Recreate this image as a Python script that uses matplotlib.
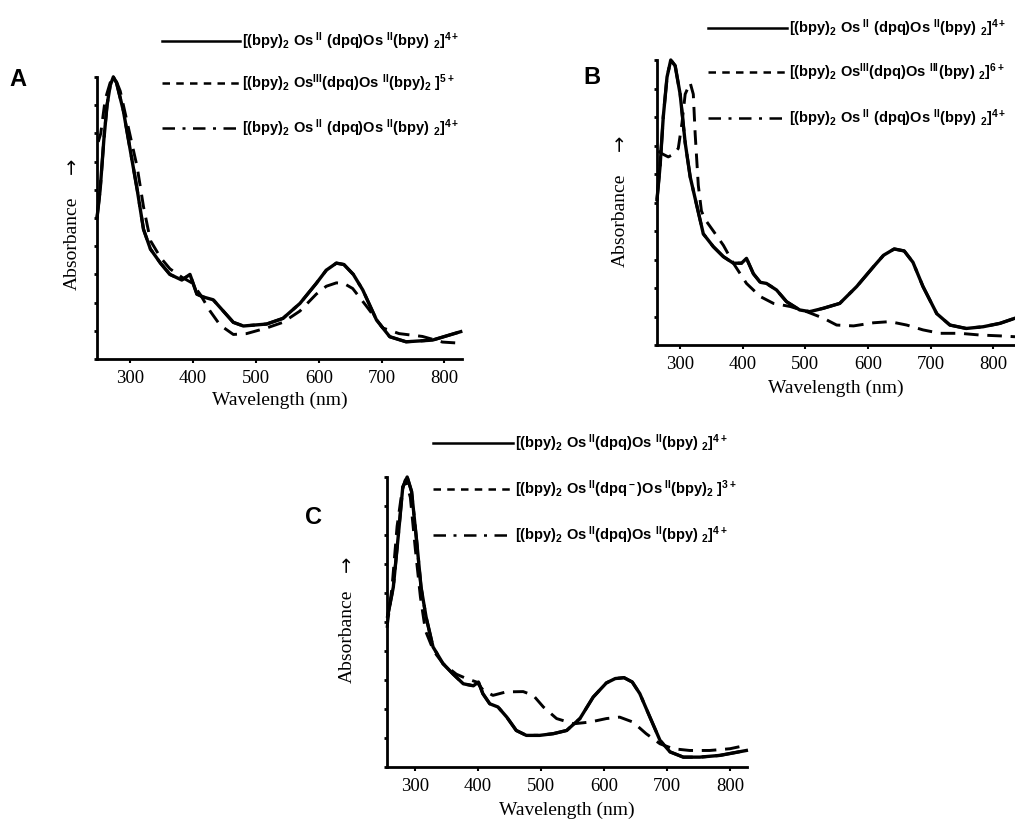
import matplotlib
matplotlib.use("Agg")
import matplotlib.pyplot as plt
from matplotlib.lines import Line2D

plt.rcParams['mathtext.fontset'] = 'custom'
plt.rcParams['mathtext.rm'] = 'Liberation Sans:bold'
plt.rcParams['mathtext.it'] = 'Liberation Sans:bold'
plt.rcParams['mathtext.bf'] = 'Liberation Sans:bold'

# ---------------- data ----------------
xticks = [300, 400, 500, 600, 700, 800]

A_solid_wl = [247, 252, 258, 263, 268, 273, 278, 289, 300, 311, 321, 332, 348, 363, 382, 395, 406, 416,
              432, 448, 464, 480, 517, 543, 570, 596, 612, 628, 640, 655, 670, 692, 713, 739, 781, 826]
A_solid = [0.50, 0.60, 0.78, 0.90, 0.97, 1.0, 0.98, 0.88, 0.74, 0.60, 0.46, 0.39, 0.34, 0.30, 0.28, 0.30,
           0.23, 0.22, 0.21, 0.17, 0.13, 0.117, 0.124, 0.144, 0.197, 0.268, 0.315, 0.34, 0.335, 0.30,
           0.245, 0.138, 0.079, 0.061, 0.067, 0.097]
A_dash_wl = [249, 253, 260, 268, 276, 284, 297, 311, 321, 332, 348, 363, 382, 398, 411, 427, 443, 464,
             485, 517, 543, 570, 596, 612, 628, 640, 654, 675, 702, 728, 765, 797, 826]
A_dash = [0.77, 0.80, 0.92, 0.98, 0.995, 0.95, 0.82, 0.68, 0.54, 0.42, 0.36, 0.32, 0.29, 0.27, 0.23,
          0.17, 0.12, 0.087, 0.09, 0.11, 0.13, 0.17, 0.23, 0.258, 0.27, 0.268, 0.25, 0.19, 0.11, 0.09,
          0.08, 0.06, 0.056]
A_back_wl = A_solid_wl
A_back = A_solid

B_solid_wl = [263, 268, 273, 279, 285, 292, 300, 308, 316, 327, 337, 353, 369, 385, 398, 406, 417, 428,
              438, 454, 470, 491, 507, 529, 555, 582, 609, 625, 642, 658, 672, 688, 710, 731, 757, 784,
              811, 835]
B_solid = [0.51, 0.63, 0.80, 0.94, 1.0, 0.98, 0.88, 0.71, 0.59, 0.485, 0.39, 0.345, 0.31, 0.287, 0.287,
           0.304, 0.25, 0.22, 0.216, 0.193, 0.152, 0.123, 0.117, 0.129, 0.146, 0.205, 0.275, 0.315,
           0.337, 0.33, 0.29, 0.205, 0.11, 0.07, 0.058, 0.064, 0.076, 0.094]
B_dash_wl = [265, 272, 281, 290, 297, 303, 308, 316, 321, 324, 329, 334, 340, 353, 369, 385, 406, 428,
             449, 476, 502, 529, 550, 577, 609, 635, 662, 688, 715, 747, 779, 811, 835]
B_dash = [0.68, 0.67, 0.66, 0.67, 0.69, 0.78, 0.88, 0.92, 0.88, 0.74, 0.56, 0.47, 0.44, 0.40, 0.35,
          0.287, 0.216, 0.17, 0.146, 0.135, 0.117, 0.094, 0.07, 0.067, 0.078, 0.082, 0.07, 0.053,
          0.041, 0.041, 0.035, 0.032, 0.029]
B_back_wl = B_solid_wl
B_back = B_solid

C_solid_wl = [257, 266, 274, 281, 288, 295, 303, 310, 318, 329, 345, 361, 377, 393, 401, 408, 419, 432,
              446, 461, 477, 498, 520, 541, 562, 583, 604, 618, 632, 645, 657, 673, 689, 705, 726, 752,
              784, 826]
C_solid = [0.52, 0.62, 0.80, 0.965, 1.0, 0.95, 0.78, 0.62, 0.517, 0.414, 0.356, 0.32, 0.287, 0.28, 0.293,
           0.253, 0.218, 0.207, 0.172, 0.126, 0.109, 0.109, 0.115, 0.126, 0.167, 0.241, 0.29, 0.305,
           0.308, 0.293, 0.253, 0.172, 0.092, 0.052, 0.034, 0.034, 0.04, 0.057]
C_dash_wl = [256, 264, 272, 280, 285, 293, 301, 309, 317, 330, 345, 366, 382, 398, 409, 424, 445, 472,
             488, 504, 525, 552, 578, 604, 625, 646, 667, 689, 710, 736, 768, 800, 826]
C_dash = [0.48, 0.62, 0.83, 0.954, 0.99, 0.93, 0.75, 0.586, 0.47, 0.40, 0.356, 0.32, 0.305, 0.293, 0.264,
          0.247, 0.259, 0.26, 0.247, 0.207, 0.167, 0.149, 0.155, 0.167, 0.172, 0.155, 0.115, 0.08, 0.063,
          0.057, 0.057, 0.063, 0.075]
C_back_wl = C_solid_wl
C_back = C_solid

legend_A = [r'$\mathrm{[(bpy)_2\ Os^{\ II}\ (dpq)Os\ ^{II}(bpy)\ _2]^{4+}}$',
            r'$\mathrm{[(bpy)_2\ Os^{III}(dpq)Os\ ^{II}(bpy)_2\ ]^{5+}}$',
            r'$\mathrm{[(bpy)_2\ Os^{\ II}\ (dpq)Os\ ^{II}(bpy)\ _2]^{4+}}$']
legend_B = [r'$\mathrm{[(bpy)_2\ Os^{\ II}\ (dpq)Os\ ^{II}(bpy)\ _2]^{4+}}$',
            r'$\mathrm{[(bpy)_2\ Os^{III}(dpq)Os\ ^{III}(bpy)\ _2]^{6+}}$',
            r'$\mathrm{[(bpy)_2\ Os^{\ II}\ (dpq)Os\ ^{II}(bpy)\ _2]^{4+}}$']
legend_C = [r'$\mathrm{[(bpy)_2\ Os^{\ II}(dpq)Os\ ^{II}(bpy)\ _2]^{4+}}$',
            r'$\mathrm{[(bpy)_2\ Os^{\ II}(dpq^-)Os^{\ II}(bpy)_2\ ]^{3+}}$',
            r'$\mathrm{[(bpy)_2\ Os^{\ II}(dpq)Os\ ^{II}(bpy)\ _2]^{4+}}$']

# ---------------- figure ----------------
W, H = 1015, 824
fig = plt.figure(figsize=(W / 100, H / 100), dpi=100)

def rect(l, r, t, b):
    return [l / W, 1 - b / H, (r - l) / W, (b - t) / H]

serif = ['Liberation Serif', 'DejaVu Serif']

def setup(ax, xlim, xlab_pad):
    ax.set_xlim(*xlim)
    ax.set_ylim(0, 1.0)
    for s in ['top', 'right']:
        ax.spines[s].set_visible(False)
    for s in ['left', 'bottom']:
        ax.spines[s].set_linewidth(2.0)
    ax.set_xticks(xticks)
    ax.set_xticklabels([str(t) for t in xticks], fontfamily=serif, fontsize=13.5)
    ax.set_yticks([i / 10 for i in range(11)])
    ax.set_yticklabels([])
    ax.tick_params(axis='x', direction='out', length=3, width=1.5, pad=5)
    ax.tick_params(axis='y', direction='out', length=2.5, width=2)
    ax.set_xlabel('Wavelength (nm)', fontfamily=serif, fontsize=14, labelpad=xlab_pad)

def ylab(x, y_text, y_arrow):
    fig.text(x / W, 1 - y_text / H, 'Absorbance', fontfamily=serif, fontsize=14,
             rotation=90, ha='center', va='center')
    fig.text(x / W, 1 - y_arrow / H, '\u2192', fontfamily='DejaVu Sans', fontsize=14,
             rotation=90, ha='center', va='center')

def draw(ax, sw, s, dw, d, bw, b):
    ax.plot(bw, b, color='black', lw=2.2, linestyle=(0, (8, 3, 1.5, 3)), clip_on=False, zorder=2)
    ax.plot(dw, d, color='black', lw=2.1, linestyle=(0, (5, 3)), clip_on=False, zorder=3)
    ax.plot(sw, s, color='black', lw=2.4, solid_joinstyle='round', clip_on=False, zorder=4)

def legend(x0, x1, ys, tx, labels):
    styles = ['-', (0, (3, 2.5)), (0, (5, 3, 1.2, 3))]
    for y, ls, lab in zip(ys, styles, labels):
        fig.add_artist(Line2D([x0 / W, x1 / W], [1 - y / H, 1 - y / H], color='black',
                              lw=1.8, linestyle=ls))
        fig.text(tx / W, 1 - y / H, lab, fontsize=10.5, va='center', ha='left')

# Panel A
axA = fig.add_axes(rect(97, 462, 77, 359))
setup(axA, (247, 828), 3)
draw(axA, A_solid_wl, A_solid, A_dash_wl, A_dash, A_back_wl, A_back)
ylab(72, 243, 166)
legend(162, 240, [41, 83, 128], 242, legend_A)
fig.text(18 / W, 1 - 80 / H, 'A', fontsize=17, fontweight='heavy', fontfamily='Liberation Sans',
         ha='center', va='center')

# Panel B
axB = fig.add_axes(rect(657, 1015, 60, 345))
setup(axB, (263, 835), 5)
draw(axB, B_solid_wl, B_solid, B_dash_wl, B_dash, B_back_wl, B_back)
ylab(620, 220, 143)
legend(708, 787, [28, 72, 118], 789, legend_B)
fig.text(592 / W, 1 - 77 / H, 'B', fontsize=17, fontweight='heavy', fontfamily='Liberation Sans',
         ha='center', va='center')

# Panel C
axC = fig.add_axes(rect(387, 747, 477, 767))
setup(axC, (256, 827), 5)
draw(axC, C_solid_wl, C_solid, C_dash_wl, C_dash, C_back_wl, C_back)
ylab(347, 636, 564)
legend(433, 513, [443, 489, 535], 515, legend_C)
fig.text(314 / W, 1 - 518 / H, 'C', fontsize=17, fontweight='heavy', fontfamily='Liberation Sans',
         ha='center', va='center')

fig.savefig('out.png', dpi=100)
